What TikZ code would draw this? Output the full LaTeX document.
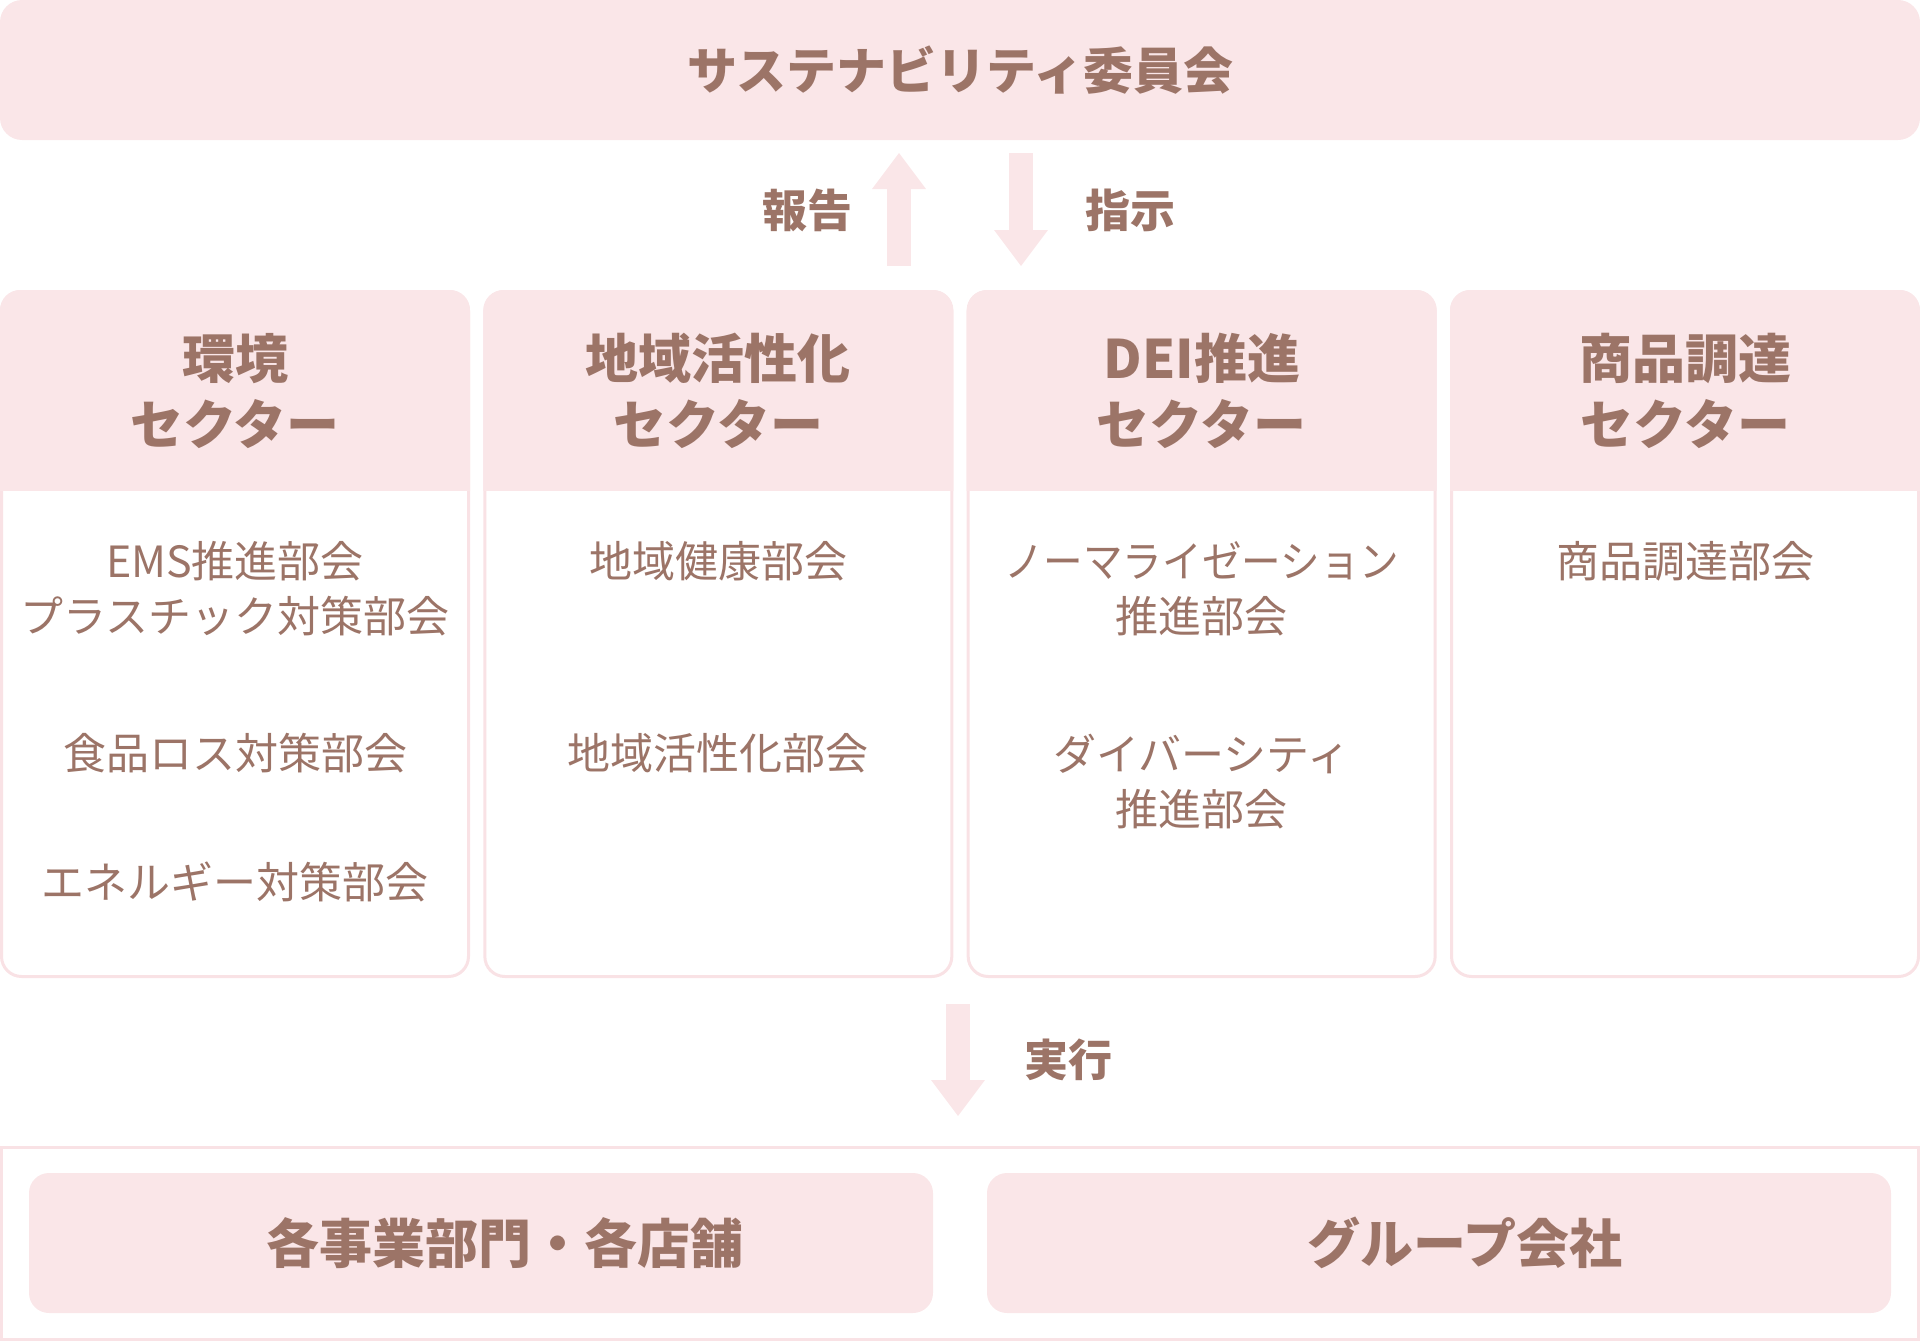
\documentclass[tikz,border=0pt]{standalone}
\usepackage{fontspec}
\setmainfont{Noto Sans CJK JP}
\usetikzlibrary{arrows.meta}
\definecolor{pinkfill}{HTML}{FAE6E8}
\definecolor{pinkline}{HTML}{F9E2E5}
\definecolor{txtbrown}{HTML}{9C7467}
\tikzset{
  titletext/.style={text=txtbrown, inner sep=0pt, align=center, font=\fontsize{50}{60}\selectfont\bfseries},
  headtext/.style={text=txtbrown, inner sep=0pt, align=center, font=\fontsize{53}{66}\selectfont\bfseries},
  bodytext/.style={text=txtbrown, inner sep=0pt, align=center, font=\fontsize{43}{55}\selectfont},
  labeltext/.style={text=txtbrown, inner sep=0pt, font=\fontsize{45}{50}\selectfont\bfseries},
  unitbox/.style={fill=pinkfill, rounded corners=20pt, inner sep=0pt, minimum width=904pt, minimum height=140pt},
  unittext/.style={text=txtbrown, inner sep=0pt, font=\fontsize{53}{60}\selectfont\bfseries},
  blockarrow/.style={draw=pinkfill, line width=24pt, -{Triangle[length=36pt,width=54pt,line width=0pt]}},
}
\begin{document}
\begin{tikzpicture}[x=1pt,y=-1pt]
\useasboundingbox (0,0) rectangle (1920,1341);
% top committee
\node[fill=pinkfill, rounded corners=22pt, minimum width=1920pt, minimum height=140pt, inner sep=0pt] (top) at (960,70) {};
\node[titletext] (title) at (960,70) {サステナビリティ委員会};
% sector boxes
\foreach \i in {0,1,2,3}{
  \pgfmathsetmacro{\xo}{\i*483.333}
  \draw[pinkline, line width=3pt, fill=white, rounded corners=20pt] (\xo+1.5,291.5) rectangle (\xo+468.5,976.5);
  \begin{scope}
    \clip (\xo,280) rectangle (\xo+470,490);
    \fill[pinkfill, rounded corners=20pt] (\xo,290) rectangle (\xo+470,540);
  \end{scope}
}
% headers
\node[headtext] (h1) at (235,391) {環境\\セクター};
\node[headtext] (h2) at (718.3,391) {地域活性化\\セクター};
\node[headtext] (h3) at (1201.7,391) {DEI推進\\セクター};
\node[headtext] (h4) at (1685,391) {商品調達\\セクター};
% bodies
\node[bodytext] (c1a) at (235,589) {EMS推進部会\\プラスチック対策部会};
\node[bodytext] (c1b) at (235,753) {食品ロス対策部会};
\node[bodytext] (c1c) at (235,882) {エネルギー対策部会};
\node[bodytext] (c2a) at (718.3,561) {地域健康部会};
\node[bodytext] (c2b) at (718.3,753) {地域活性化部会};
\node[bodytext] (c3a) at (1201.7,589) {\scalebox{0.92}[1]{ノーマライゼーション}\\推進部会};
\node[bodytext] (c3b) at (1201.7,782) {ダイバーシティ\\推進部会};
\node[bodytext] (c4a) at (1685,561) {商品調達部会};
% arrows between committee and sectors
\coordinate (upS) at (899,266);
\coordinate (upE) at (899,153);
\coordinate (dnS) at (1021,153);
\coordinate (dnE) at (1021,266);
\draw[blockarrow] (upS) -- (upE);
\draw[blockarrow] (dnS) -- (dnE);
\node[labeltext] (rep) at (807,210) {報告};
\node[labeltext] (ins) at (1130,210) {指示};
% execution arrow
\coordinate (exS) at (958,1004);
\coordinate (exE) at (958,1116);
\draw[blockarrow] (exS) -- (exE);
\node[labeltext, font=\fontsize{44}{50}\selectfont\bfseries] (exe) at (1068,1060) {実行};
% bottom frame
\draw[pinkline, line width=3pt] (1.5,1147.5) rectangle (1918.5,1339.5);
\node[unitbox] (u1) at (481,1243) {};
\node[unitbox] (u2) at (1439,1243) {};
\node[unittext] (u1t) at (505,1243) {各事業部門・各店舗};
\node[unittext] (u2t) at (1465,1243) {グループ会社};
\end{tikzpicture}
\end{document}
